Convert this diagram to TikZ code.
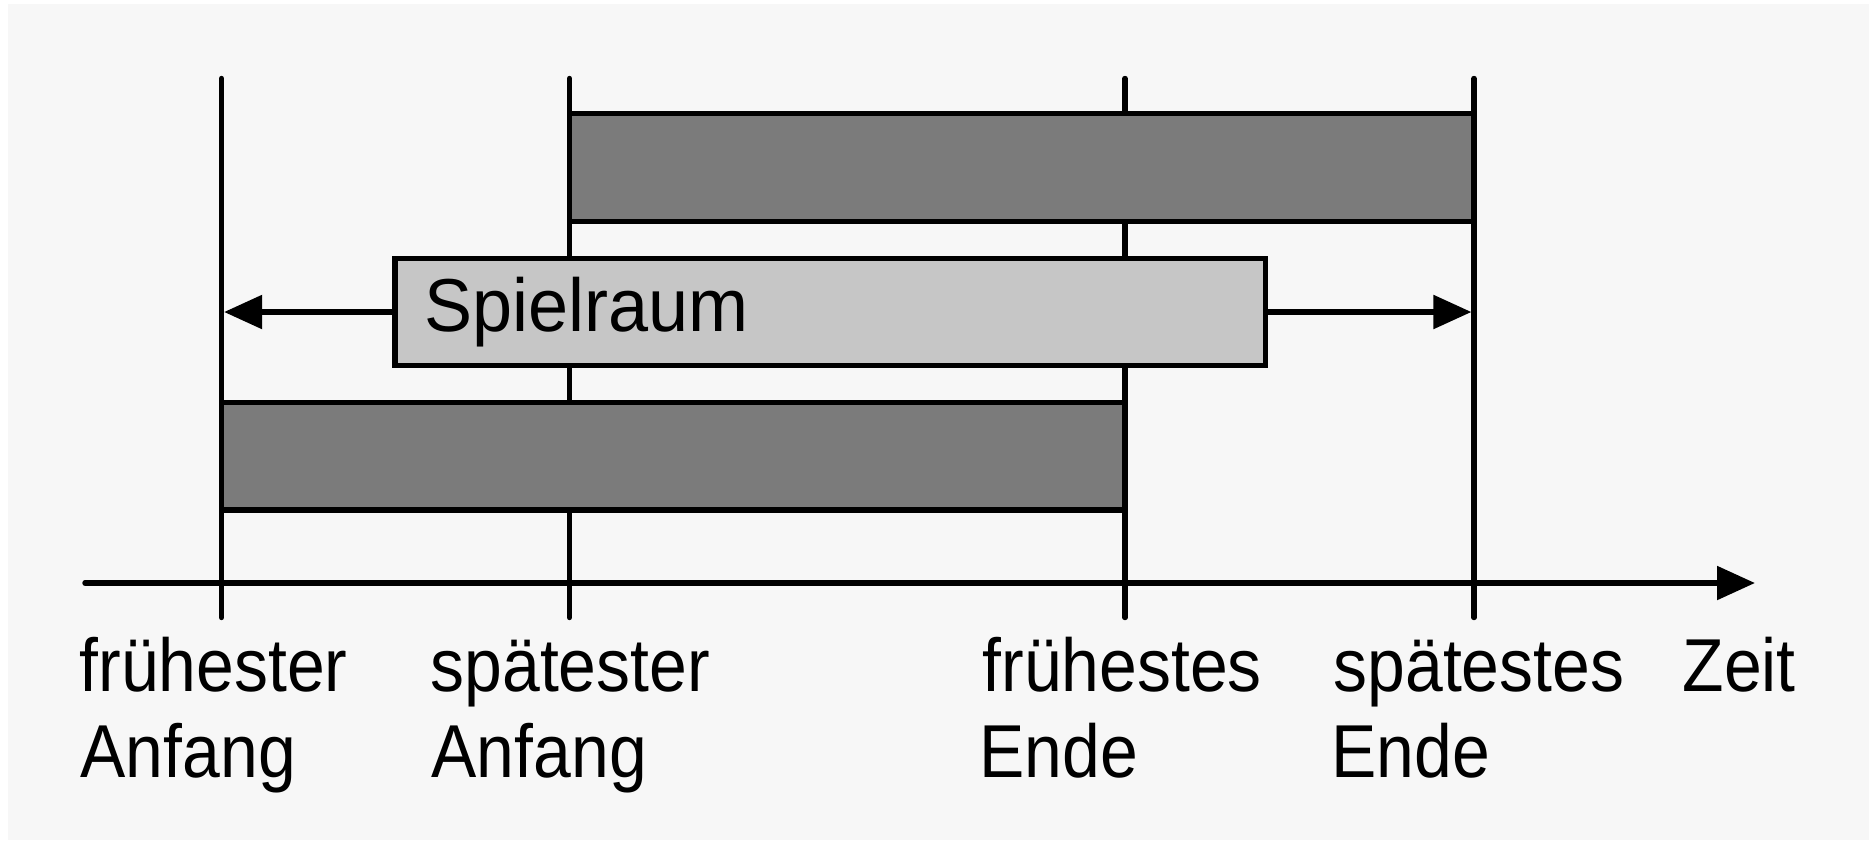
\documentclass[tikz,border=0pt]{standalone}
\usepackage{fontspec}
\setmainfont{Liberation Sans}[FakeStretch=0.905]
\newfontfamily\boxfont{Liberation Sans}[FakeStretch=0.96]
\usetikzlibrary{arrows.meta}
\definecolor{bggray}{HTML}{F7F7F7}
\definecolor{bardark}{HTML}{7B7B7B}
\definecolor{barlight}{HTML}{C6C6C6}
\begin{document}
\begin{tikzpicture}[x=0.5pt,y=-0.5pt,line width=2.7pt,
  txt/.style={inner sep=0pt,anchor=base west,font=\fontsize{37.5}{45}\selectfont},
  tick/.style={line cap=round},
  box/.style={draw,rectangle,inner sep=0pt,outer sep=0pt,anchor=north west},
  bar/.style={box,fill=bardark},
  slack/.style={box,fill=barlight},
  tip/.style={-{Triangle[length=19pt,width=16.5pt]}}]
% page and panel
\useasboundingbox (0,0) rectangle (1876,843);
\fill[white] (0,0) rectangle (1876,843);
\fill[bggray] (8,4) rectangle (1869,840);

% time marks
\coordinate (fa) at (221.5,583);
\coordinate (sa) at (569.5,583);
\coordinate (fe) at (1125,583);
\coordinate (se) at (1474,583);

% vertical guide lines
\foreach \p in {fa,sa,fe,se}
  \draw[tick] (\p |- 0,78.5) -- (\p |- 0,617.5);

% time axis
\coordinate (ax0) at (85,583);
\coordinate (ax1) at (1755,583);
\draw[tick,tip] (ax0) -- (ax1);

% activity bars
\node[bar,minimum width=452.25pt,minimum height=54.2pt] (late) at (569.5,113.3) {};
\node[bar,minimum width=451.75pt,minimum height=53.85pt] (early) at (221.5,402.3) {};

% slack box with arrows
\node[slack,minimum width=435.25pt,minimum height=53.7pt] (slack) at (395,258.3) {};
\node[txt,font=\boxfont\fontsize{37.5}{45}\selectfont] (slacklabel) at (422,331) {Spielraum};
\coordinate (ltip) at (fa |- slack.west);
\coordinate (rtip) at (se |- slack.east);
\draw[tip] (slack.west) -- ([xshift=1.3pt]ltip);
\draw[tip] (slack.east) -- ([xshift=-1.3pt]rtip);

% labels
\node[txt] (fa1) at (77,691) {frühester};
\node[txt] (fa2) at (78,777) {Anfang};
\node[txt] (sa1) at (428,691) {spätester};
\node[txt] (sa2) at (429,777) {Anfang};
\node[txt] (fe1) at (980,691) {frühestes};
\node[txt] (fe2) at (977,777) {Ende};
\node[txt] (se1) at (1331,691) {spätestes};
\node[txt] (se2) at (1329,777) {Ende};
\node[txt] (zeit) at (1680,691) {Zeit};
\end{tikzpicture}
\end{document}
